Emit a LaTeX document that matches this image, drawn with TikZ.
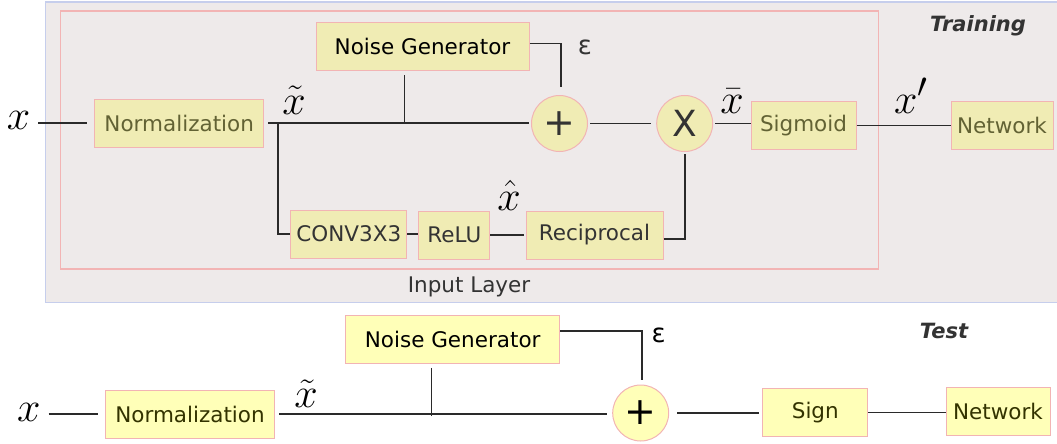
\documentclass[tikz,border=0pt]{standalone}
\usepackage{fontspec}
\setmainfont{DejaVu Sans}
\usetikzlibrary{calc}
\definecolor{bgT}{HTML}{EEEAEA}
\definecolor{bordT}{HTML}{C6CEEC}
\definecolor{pinkb}{HTML}{F2B4B4}
\definecolor{fillT}{HTML}{F0ECB4}
\definecolor{fillB}{HTML}{FFFFB8}
\definecolor{oliveT}{HTML}{626234}
\definecolor{oliveB}{HTML}{333300}
\definecolor{greyT}{HTML}{333333}
\definecolor{lineC}{HTML}{2A2A2A}
\newcommand{\bigmath}[1]{\scalebox{1.69}{\Huge$#1$}}
\tikzset{
  x=1pt,y=-1pt,
  txt/.style={font=\fontsize{21.5}{26}\selectfont},
  boxT/.style={txt,draw=pinkb,line width=1pt,fill=fillT,inner sep=0pt,minimum height=48pt},
  boxB/.style={txt,draw=pinkb,line width=1pt,fill=fillB,inner sep=0pt,minimum height=48pt,text=oliveB},
  circT/.style={circle,draw=pinkb,line width=1pt,fill=fillT,inner sep=0pt,minimum size=56pt,text=greyT},
  circB/.style={circle,draw=pinkb,line width=1pt,fill=fillB,inner sep=0pt,minimum size=56pt,text=black},
  mlbl/.style={inner sep=0pt,anchor=base},
  eps/.style={font=\fontsize{26}{30}\selectfont,inner sep=0pt},
  conn/.style={draw=lineC,line width=1.2pt},
  ttl/.style={font=\fontsize{21}{24}\selectfont\bfseries\itshape,text=greyT},
}
\begin{document}
\begin{tikzpicture}
\useasboundingbox (0,0) rectangle (1057,444);
% training frame
\draw[fill=bgT,draw=bordT,line width=1.2pt] (45.5,2) rectangle (1062,302.5);
\draw[draw=pinkb,line width=1.2pt] (60.5,11) rectangle (878.5,269);
\node[txt,text=greyT] (inlay) at (469,287) {Input Layer};
\node[ttl] (train) at (978,25.5) {Training};
% training nodes
\node[mlbl] (xT) at (18.6,129) {\bigmath{x}};
\node[boxT,minimum width=169pt,text=oliveT] (normT) at (179.2,123) {Normalization};
\node[boxT,minimum width=213pt,text=black] (noiseT) at (422.5,46.8) {Noise Generator};
\node[circT,font=\fontsize{38}{40}\selectfont] (plusT) at (559.5,123.5) {+};
\node[circT,font=\fontsize{36}{40}\selectfont] (timesT) at (684.7,123.5) {X};
\node[boxT,minimum width=105pt,text=oliveT] (sigT) at (803.5,125.5) {Sigmoid};
\node[boxT,minimum width=102pt,text=oliveT] (netT) at (1002,125.5) {Network};
\node[boxT,minimum width=116pt,text=greyT] (conv) at (348.8,234) {CONV3X3};
\node[boxT,minimum width=71pt,text=greyT] (relu) at (454.3,235) {ReLU};
\node[boxT,minimum width=137pt,text=greyT] (recip) at (594.5,235) {Reciprocal};
\node[mlbl] (xtT) at (294,114) {\bigmath{\tilde{x}}};
\node[mlbl] (xbT) at (732,113) {\bigmath{\bar{x}}};
\node[mlbl] (xpT) at (911,113) {\bigmath{x'}};
\node[mlbl] (xhT) at (509,210) {\bigmath{\hat{x}}};
\node[eps,text=greyT] (epsT) at (585,47) {ε};
\coordinate (brT) at (278,123.4);
\coordinate (ngT) at (404.3,123.4);
\coordinate (eT) at (561,43.8);
\coordinate (rcT) at (685,239);
% training connectors
\draw[conn,shorten <=8pt,shorten >=7pt] (xT.east |- normT) -- (normT.west);
\draw[conn,shorten <=4pt,shorten >=2pt] (normT.east) -- (normT.east -| plusT.west);
\draw[conn] (brT) |- (conv.west);
\draw[conn,shorten <=4pt] (noiseT.south -| ngT) -- (ngT);
\draw[conn] (noiseT.east |- eT) -- (eT) -- ([yshift=8pt]plusT.north -| eT);
\draw[conn,shorten <=2pt,shorten >=5pt] (plusT.east) -- (timesT.west);
\draw[conn,shorten <=2pt] (timesT.east) -- (timesT.east -| sigT.west);
\draw[conn] (sigT.east) -- (sigT.east -| netT.west);
\draw[conn] (conv.east) -- (conv.east -| relu.west);
\draw[conn,shorten >=2pt] (relu.east) -- (relu.east -| recip.west);
\draw[conn] (recip.east |- rcT) -- (rcT) -- ([yshift=-2pt]timesT.south -| rcT);
% test
\node[ttl] (test) at (944,330.7) {Test};
\node[mlbl] (xB) at (28.7,421) {\bigmath{x}};
\node[boxB,minimum width=169pt] (normB) at (190,414) {Normalization};
\node[boxB,minimum width=214pt,text=black] (noiseB) at (452.7,339.3) {Noise Generator};
\node[circB,font=\fontsize{38}{40}\selectfont] (plusB) at (640.7,413) {+};
\node[boxB,minimum width=105pt] (signB) at (815.3,412.3) {Sign};
\node[boxB,minimum width=104pt] (netB) at (998,411.5) {Network};
\node[mlbl] (xtB) at (306,407) {\bigmath{\tilde{x}}};
\node[eps,text=black] (epsB) at (658.7,335) {ε};
\coordinate (ngB) at (431.4,416);
\coordinate (eB) at (642,331);
\draw[conn,shorten <=8pt,shorten >=7pt] (xB.east |- normB) -- (normB.west);
\draw[conn,shorten <=4pt,shorten >=5pt] (normB.east) -- (normB.east -| plusB.west);
\draw[conn,shorten <=4pt] (noiseB.south -| ngB) -- (ngB);
\draw[conn] (noiseB.east |- eB) -- (eB) -- ([yshift=5pt]plusB.north -| eB);
\draw[conn,shorten <=8pt,shorten >=3pt] (plusB.east) -- (plusB.east -| signB.west);
\draw[conn] (signB.east) -- (signB.east -| netB.west);
\end{tikzpicture}
\end{document}
